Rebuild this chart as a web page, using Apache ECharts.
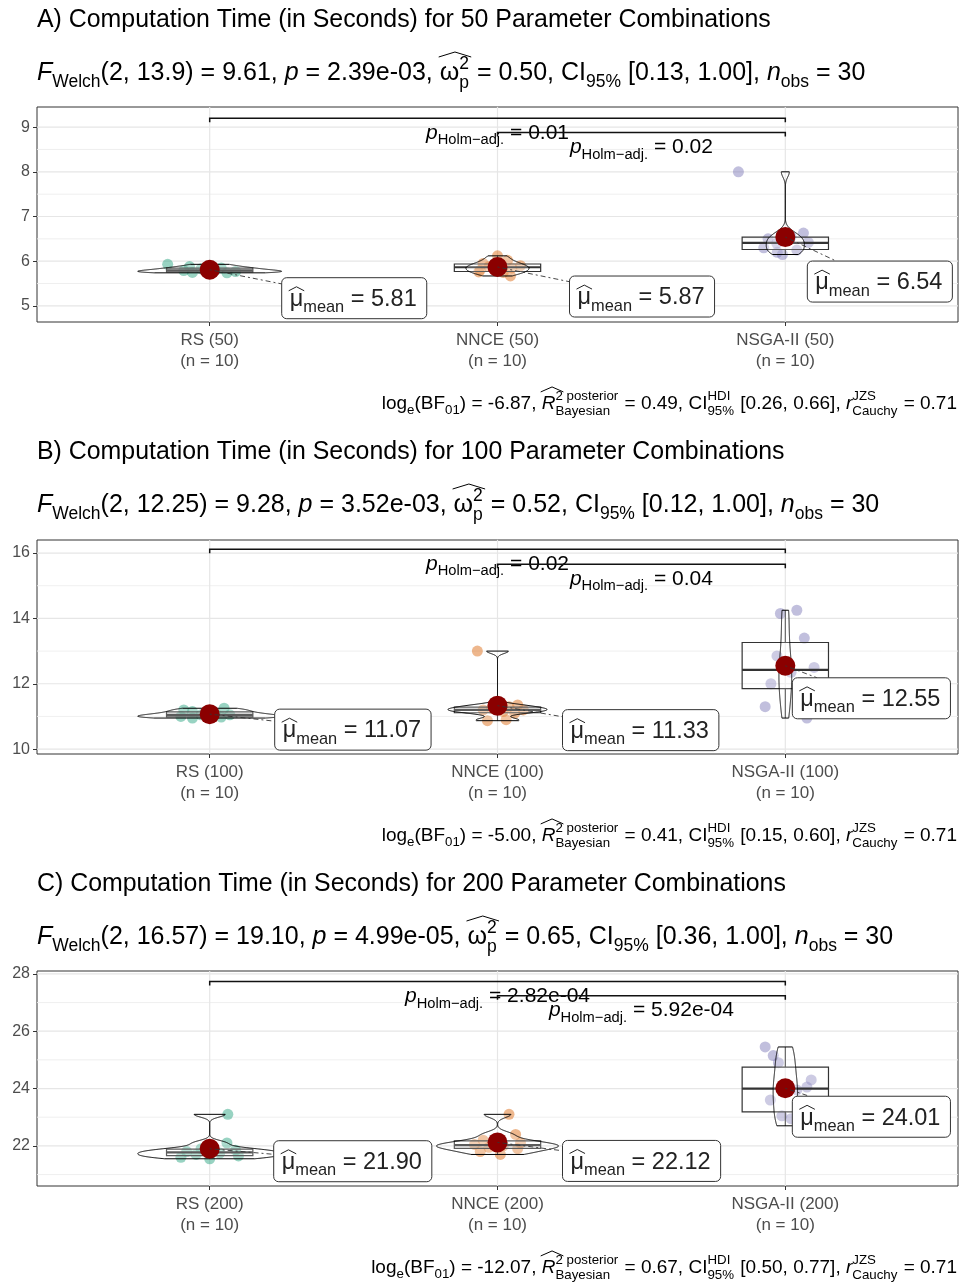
<!DOCTYPE html>
<html>
<head>
<meta charset="utf-8">
<title>Computation time</title>
<script src="https://cdn.jsdelivr.net/npm/echarts@6.0.0/dist/echarts.min.js"></script>
<style>
  html, body { margin: 0; padding: 0; background: #ffffff; }
  #main { width: 968px; height: 1286px; }
</style>
</head>
<body>
<div id="main"></div>
<script>
// ---- data ----
const sizes = [50, 100, 200];
const groups = ['RS', 'NNCE', 'NSGA-II'];
const nPerGroup = 10;
const nObs = 30;

// computation time in seconds, 10 runs per group
const rs50 = [5.93, 5.88, 5.85, 5.83, 5.80, 5.79, 5.77, 5.75, 5.74, 5.76];
const nnce50 = [6.12, 6.02, 5.95, 5.90, 5.88, 5.85, 5.80, 5.75, 5.76, 5.67];
const nsga50 = [8.00, 6.63, 6.55, 6.50, 6.42, 6.40, 6.30, 6.25, 6.20, 6.15];
const rs100 = [11.25, 11.20, 11.15, 11.10, 11.05, 11.05, 11.00, 10.98, 10.95, 10.97];
const nnce100 = [13.00, 11.35, 11.30, 11.25, 11.20, 11.20, 11.15, 11.10, 10.90, 10.87];
const nsga100 = [14.25, 14.15, 13.40, 12.85, 12.50, 12.35, 12.00, 11.80, 11.30, 10.95];
const rs200 = [23.10, 22.10, 21.90, 21.85, 21.80, 21.75, 21.70, 21.65, 21.60, 21.55];
const nnce200 = [23.10, 22.40, 22.20, 22.10, 22.05, 22.00, 21.95, 21.90, 21.80, 21.70];
const nsga200 = [25.45, 25.15, 24.90, 24.30, 24.05, 23.95, 23.60, 23.05, 22.95, 22.70];

// horizontal jitter of each point (category units)
const jitRs50 = [-0.146, -0.07, 0.04, -0.03, 0.02, -0.09, 0.09, -0.06, 0.06, -0.01];
const jitNnce50 = [0.0, 0.035, -0.05, 0.08, -0.03, 0.05, -0.06, 0.02, -0.065, 0.045];
const jitNsga50 = [-0.163, 0.063, 0.02, -0.06, 0.08, -0.03, -0.075, 0.04, -0.028, -0.01];
const jitRs100 = [0.05, -0.09, -0.06, 0.02, -0.03, 0.07, -0.1, 0.04, -0.06, 0.0];
const jitNnce100 = [-0.07, 0.07, 0.04, -0.02, 0.09, -0.05, 0.02, 0.06, 0.03, -0.035];
const jitNsga100 = [0.04, -0.017, 0.066, -0.029, 0.1, 0.02, -0.05, 0.06, -0.07, 0.075];
const jitRs200 = [0.063, 0.06, -0.03, 0.09, -0.08, 0.035, -0.047, 0.1, -0.1, 0.0];
const jitNnce200 = [0.04, 0.063, -0.05, 0.08, -0.08, 0.02, -0.03, 0.07, -0.06, 0.01];
const jitNsga200 = [-0.07, -0.042, -0.024, 0.09, 0.075, 0.04, -0.052, -0.012, 0.02, 0.063];

const means50 = [5.81, 5.87, 6.54];
const means100 = [11.07, 11.33, 12.55];
const means200 = [21.90, 22.12, 24.01];

// test statistics printed in subtitles / captions
const welchDf = ['13.9', '12.25', '16.57'];
const welchF = ['9.61', '9.28', '19.10'];
const pValue = ['2.39e-03', '3.52e-03', '4.99e-05'];
const omega2 = ['0.50', '0.52', '0.65'];
const omegaCI = ['[0.13, 1.00]', '[0.12, 1.00]', '[0.36, 1.00]'];
const logBF = ['-6.87', '-5.00', '-12.07'];
const r2 = ['0.49', '0.41', '0.67'];
const r2CI = ['[0.26, 0.66]', '[0.15, 0.60]', '[0.50, 0.77]'];
const rCauchy = '0.71';

// pairwise comparisons
const pairs = [[1, 3], [2, 3]];
const pairP = [['0.01', '0.02'], ['0.02', '0.04'], ['2.82e-04', '5.92e-04']];
const bracketY = [[9.2, 8.88], [16.12, 15.66], [27.73, 27.24]];

// axes
const yRange = [[4.64, 9.45], [9.85, 16.4], [20.6, 28.1]];
const yTicks = [[5, 6, 7, 8, 9], [10, 12, 14, 16], [22, 24, 26, 28]];
const yMinor = [[5.5, 6.5, 7.5, 8.5], [11, 13, 15], [21, 23, 25, 27]];

// ---- layout ----
const FONT = '"Liberation Sans", Arial, Helvetica, sans-serif';
const colors = ['#1B9E77', '#D95F02', '#7570B3'];
const gridTop = [107, 540, 971], gridH = [215, 214, 215];
const titleBase = [29, 461, 893], subBase = [82, 514, 946], capBase = [410, 842, 1274];
// pixel offset of each mean label box from its mean point (repelled labels)
const labelOffsets = [
  [[72, 8], [72, 9], [22, 24]],
  [[65, -5], [65, 4], [7, 12]],
  [[64, -8], [65, -2], [7, 8]]
];

const ctx = document.createElement('canvas').getContext('2d');
function fontStr(size, italic) { return (italic ? 'italic ' : '') + size.toFixed(1) + 'px ' + FONT; }
function textW(t, size, italic) { ctx.font = fontStr(size, italic); return ctx.measureText(t).width; }

// lays out a little plotmath-like expression as separate text pieces
function mathEls(tokens, base, x, baseline, align, color) {
  const small = base * 0.7;
  const parts = tokens.map(([t, k, opt]) => {
    if (k === 'stk') return { t, k, opt, w: Math.max(textW(t[0], small), textW(t[1], small)) + 1 };
    const sz = (k === 'sub' || k === 'sup') ? small : base;
    return { t, k, opt, sz, w: textW(t, sz, k === 'i') };
  });
  const total = parts.reduce((s, p) => s + p.w, 0);
  let cx = align === 'right' ? x - total : align === 'center' ? x - total / 2 : x;
  const els = [];
  const put = (t, xx, bl, sz, it) => els.push({
    type: 'text', x: xx, y: bl - 0.35 * sz, silent: true,
    style: { text: t, font: fontStr(sz, it), fill: color, align: 'left', verticalAlign: 'middle' }
  });
  parts.forEach(p => {
    if (p.k === 'stk') {
      put(p.t[0], cx, baseline - 0.45 * base, small, false);
      put(p.t[1], cx, baseline + 0.3 * base, small, false);
    } else if (p.k === 'sub') put(p.t, cx, baseline + 0.25 * base, p.sz, false);
    else if (p.k === 'sup') put(p.t, cx, baseline - 0.42 * base, p.sz, false);
    else put(p.t, cx, baseline, p.sz, p.k === 'i');
    if (p.opt && p.opt.hat) {
      const [dy, h, extra] = p.opt.hat;
      const y0 = baseline - dy * base, x0 = cx - 1, x1 = cx + p.w + extra;
      els.push({ type: 'polyline', silent: true,
        shape: { points: [[x0, y0], [(x0 + x1) / 2, y0 - h], [x1, y0]] },
        style: { stroke: color, lineWidth: 1, fill: 'none' } });
    }
    cx += p.w;
  });
  return { els, width: total };
}

// box plot + violin (gaussian kde, nrd0 bandwidth) for one group
function q7(s, p) {
  const h = (s.length - 1) * p, lo = Math.floor(h), hi = Math.min(lo + 1, s.length - 1);
  return s[lo] + (h - lo) * (s[hi] - s[lo]);
}
function groupStats(vals) {
  const s = vals.slice().sort((a, b) => a - b), n = s.length;
  const mean = s.reduce((a, b) => a + b, 0) / n;
  const sd = Math.sqrt(s.reduce((a, b) => a + (b - mean) * (b - mean), 0) / (n - 1));
  const q1 = q7(s, 0.25), med = q7(s, 0.5), q3 = q7(s, 0.75), iqr = q3 - q1;
  const inside = s.filter(v => v >= q1 - 1.5 * iqr && v <= q3 + 1.5 * iqr);
  let lo = Math.min(sd, iqr / 1.34);
  if (!(lo > 0)) lo = sd || 1;
  const bw = 0.9 * lo * Math.pow(n, -0.2);
  const ys = [], dens = [];
  for (let k = 0; k < 512; k++) {
    const y = s[0] + (s[n - 1] - s[0]) * k / 511;
    let d = 0;
    s.forEach(x => { const z = (y - x) / bw; d += Math.exp(-0.5 * z * z); });
    ys.push(y);
    dens.push(d / (n * bw * Math.sqrt(2 * Math.PI)));
  }
  return { q1, med, q3, whiLo: inside[0], whiHi: inside[inside.length - 1], ys, dens, maxD: Math.max(...dens) };
}

const panels = [
  { vals: [rs50, nnce50, nsga50], jit: [jitRs50, jitNnce50, jitNsga50], means: means50 },
  { vals: [rs100, nnce100, nsga100], jit: [jitRs100, jitNnce100, jitNsga100], means: means100 },
  { vals: [rs200, nnce200, nsga200], jit: [jitRs200, jitNnce200, jitNsga200], means: means200 }
];
panels.forEach(p => {
  p.stats = p.vals.map(groupStats);
  p.maxD = Math.max(...p.stats.map(s => s.maxD));
});

const grids = [], xAxes = [], yAxes = [], series = [], graphics = [];

panels.forEach((panel, pi) => {
  grids.push({ left: 37, top: gridTop[pi], width: 921, height: gridH[pi], show: true,
    borderColor: '#333333', borderWidth: 1, backgroundColor: '#ffffff' });
  xAxes.push({
    type: 'value', gridIndex: pi, min: 0.4, max: 3.6,
    splitLine: { show: false }, axisLine: { show: false, onZero: false },
    axisTick: { show: true, length: 4, lineStyle: { color: '#333333' }, customValues: [1, 2, 3] },
    axisLabel: { customValues: [1, 2, 3], margin: 8, color: '#4D4D4D', fontSize: 17, lineHeight: 21, fontFamily: FONT,
      formatter: v => `${groups[Math.round(v) - 1]} (${sizes[pi]})\n(n = ${nPerGroup})` }
  });
  yAxes.push({
    type: 'value', gridIndex: pi, min: yRange[pi][0], max: yRange[pi][1],
    splitLine: { show: false }, axisLine: { show: false, onZero: false },
    axisTick: { show: true, length: 4, lineStyle: { color: '#333333' }, customValues: yTicks[pi] },
    axisLabel: { customValues: yTicks[pi], margin: 7, color: '#4D4D4D', fontSize: 16, fontFamily: FONT }
  });

  const common = { xAxisIndex: pi, yAxisIndex: pi, silent: true, animation: false };

  // grid lines
  series.push(Object.assign({}, common, {
    type: 'custom', z: 1, clip: false, data: [[1, yRange[pi][0]]],
    renderItem: (params, api) => {
      const cs = params.coordSys, ch = [];
      const hline = (v, c, w) => {
        const y = api.coord([1, v])[1];
        ch.push({ type: 'line', shape: { x1: cs.x, y1: y, x2: cs.x + cs.width, y2: y }, style: { stroke: c, lineWidth: w } });
      };
      yMinor[pi].forEach(v => hline(v, '#EDEDED', 0.9));
      yTicks[pi].forEach(v => hline(v, '#E6E6E6', 1.2));
      [1, 2, 3].forEach(c => {
        const x = api.coord([c, yRange[pi][0]])[0];
        ch.push({ type: 'line', shape: { x1: x, y1: cs.y, x2: x, y2: cs.y + cs.height }, style: { stroke: '#E6E6E6', lineWidth: 1.2 } });
      });
      return { type: 'group', children: ch };
    }
  }));

  // jittered observations
  panel.vals.forEach((vals, g) => {
    series.push(Object.assign({}, common, {
      type: 'scatter', z: 2, symbolSize: 11,
      itemStyle: { color: colors[g], opacity: 0.45 },
      data: vals.map((v, k) => [g + 1 + panel.jit[g][k], v])
    }));
  });

  // box plots and violins
  series.push(Object.assign({}, common, {
    type: 'custom', z: 3, clip: false,
    data: panel.means.map((m, g) => [g + 1, m]),
    renderItem: (params, api) => {
      const g = params.dataIndex, st = panel.stats[g], cx = g + 1;
      const left = [], right = [];
      st.ys.forEach((y, k) => {
        const hw = 0.25 * st.dens[k] / panel.maxD;
        left.push(api.coord([cx - hw, y]));
        right.push(api.coord([cx + hw, y]));
      });
      const b0 = api.coord([cx - 0.15, st.q3]), b1 = api.coord([cx + 0.15, st.q1]);
      const m0 = api.coord([cx - 0.15, st.med]), m1 = api.coord([cx + 0.15, st.med]);
      const wHi = api.coord([cx, st.whiHi]), wLo = api.coord([cx, st.whiLo]);
      const line = (a, b, w) => ({ type: 'line', shape: { x1: a[0], y1: a[1], x2: b[0], y2: b[1] }, style: { stroke: '#333333', lineWidth: w } });
      return { type: 'group', children: [
        line([wHi[0], b0[1]], wHi, 1.1),
        line([wLo[0], b1[1]], wLo, 1.1),
        { type: 'rect', shape: { x: b0[0], y: b0[1], width: b1[0] - b0[0], height: b1[1] - b0[1] },
          style: { fill: 'rgba(255,255,255,0.2)', stroke: '#333333', lineWidth: 1.2 } },
        line(m0, m1, 2.2),
        { type: 'polygon', shape: { points: left.concat(right.reverse()) },
          style: { fill: 'rgba(255,255,255,0.2)', stroke: '#000000', lineWidth: 1 } }
      ] };
    }
  }));

  // significance brackets
  series.push(Object.assign({}, common, {
    type: 'custom', z: 3, clip: false,
    data: pairs.map((pr, k) => [pr[0], bracketY[pi][k]]),
    renderItem: (params, api) => {
      const k = params.dataIndex, y = bracketY[pi][k];
      const a = api.coord([pairs[k][0], y]), b = api.coord([pairs[k][1], y]);
      const lbl = mathEls([['p', 'i'], ['Holm\u2212adj.', 'sub'], [' = ' + pairP[pi][k], 'n']],
        21, (a[0] + b[0]) / 2, a[1] + 22, 'center', '#000000');
      return { type: 'group', children: [
        { type: 'polyline', shape: { points: [[a[0], a[1] + 4], a, b, [b[0], b[1] + 4]] },
          style: { stroke: '#111111', lineWidth: 1.5, fill: 'none' } }
      ].concat(lbl.els) };
    }
  }));

  // means
  series.push(Object.assign({}, common, {
    type: 'scatter', z: 4, symbolSize: 20,
    itemStyle: { color: '#8B0000', opacity: 1 },
    data: panel.means.map((m, g) => [g + 1, m])
  }));

  // mean labels with repel segments
  series.push(Object.assign({}, common, {
    type: 'custom', z: 5, clip: false,
    data: panel.means.map((m, g) => [g + 1, m]),
    renderItem: (params, api) => {
      const g = params.dataIndex, p = api.coord([g + 1, panel.means[g]]);
      const off = labelOffsets[pi][g];
      const toks = [['\u03BC', 'n', { hat: [0.72, 4, 1] }], ['mean', 'sub'], [' = ' + panel.means[g].toFixed(2), 'n']];
      const probe = mathEls(toks, 23.5, 0, 0, 'left', '#222');
      const w = probe.width + 18, h = 41;
      const rx = p[0] + off[0], ry = p[1] + off[1];
      const cxr = rx + w / 2, cyr = ry + h / 2;
      const dx = cxr - p[0], dy = cyr - p[1];
      let t = 1;
      if (dx > 0) t = Math.min(t, (rx - p[0]) / dx);
      const tY = dy > 0 ? (ry - p[1]) / dy : dy < 0 ? (ry + h - p[1]) / dy : 1;
      const tHit = Math.max(t, Math.min(1, tY));
      const end = [p[0] + dx * Math.max(0, tHit), p[1] + dy * Math.max(0, tHit)];
      const txt = mathEls(toks, 23.5, rx + 8, ry + 30, 'left', '#222222');
      return { type: 'group', children: [
        { type: 'line', shape: { x1: p[0], y1: p[1], x2: end[0], y2: end[1] },
          style: { stroke: '#333333', lineWidth: 0.9, lineDash: [2, 3, 5, 3] } },
        { type: 'rect', shape: { x: rx, y: ry, width: w, height: h, r: 5 },
          style: { fill: '#ffffff', stroke: '#333333', lineWidth: 1 } }
      ].concat(txt.els) };
    }
  }));

  // title, subtitle, caption
  const L = ['A', 'B', 'C'][pi];
  graphics.push(...mathEls([[`${L}) Computation Time (in Seconds) for ${sizes[pi]} Parameter Combinations`, 'n']],
    24.9, 37, titleBase[pi], 'left', '#000000').els);
  graphics.push(...mathEls([
    ['F', 'i'], ['Welch', 'sub'], [`(2, ${welchDf[pi]}) = ${welchF[pi]}, `, 'n'], ['p', 'i'], [` = ${pValue[pi]}, `, 'n'],
    ['\u03C9', 'n', { hat: [1.0, 5, 12] }], [['2', 'p'], 'stk'], [` = ${omega2[pi]}, CI`, 'n'], ['95%', 'sub'],
    [` ${omegaCI[pi]}, `, 'n'], ['n', 'i'], ['obs', 'sub'], [` = ${nObs}`, 'n']
  ], 25, 37, subBase[pi], 'left', '#000000').els);
  graphics.push(...mathEls([
    ['log', 'n'], ['e', 'sub'], ['(BF', 'n'], ['01', 'sub'], [`) = ${logBF[pi]}, `, 'n'],
    ['R', 'i', { hat: [0.95, 5, 8] }], [['2 posterior', 'Bayesian'], 'stk'], [` = ${r2[pi]}, CI`, 'n'],
    [['HDI', '95%'], 'stk'], [` ${r2CI[pi]}, `, 'n'], ['r', 'i'], [['JZS', 'Cauchy'], 'stk'], [` = ${rCauchy}`, 'n']
  ], 19, 957, capBase[pi], 'right', '#000000').els);
});

const chart = echarts.init(document.getElementById('main'), null, { renderer: 'canvas' });
chart.setOption({
  backgroundColor: '#ffffff',
  animation: false,
  textStyle: { fontFamily: FONT },
  grid: grids,
  xAxis: xAxes,
  yAxis: yAxes,
  series: series,
  graphic: { elements: graphics }
});
</script>
</body>
</html>
